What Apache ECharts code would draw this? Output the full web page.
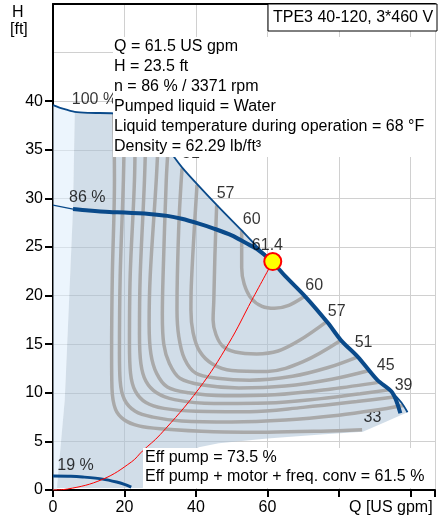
<!DOCTYPE html>
<html><head><meta charset="utf-8">
<script src="https://cdn.jsdelivr.net/npm/echarts@6/dist/echarts.min.js"></script>
<style>html,body{margin:0;padding:0;background:#fff}#c{width:438px;height:518px}</style>
</head><body><div id="c"></div>
<script>
const FONT = 'Liberation Sans, Arial, sans-serif';
const FS = 16;
const xTickLabels = [0, 20, 40, 60];
const yTickValues = [0, 5, 10, 15, 20, 25, 30, 35, 40];

// Pump curves (Q [US gpm], H [ft])
const curve100 = [[0,39.6],[3,39.2],[6.1,38.9],[10,38.8],[17,38.75],[21,38.5],[25,37.7],[29,36.4],[32,35.3],[34,34.2],[36.1,33.2],[40,31.6],[46.4,29.1],[52.8,26.7],[57,25.1],[61.3,23.5],[65,22.0],[70.6,19.9],[76.9,17.2],[80.6,15.4],[85.3,13.7],[90.8,11.3],[95,10.0],[97.5,9.0],[99.2,8.0]];
const curve86Thin = [[0,29.3],[5.6,28.9]];
const curve86 = [[5.6,28.9],[10,28.75],[15.8,28.6],[20,28.55],[26.9,28.4],[32,28.2],[36,27.9],[40.8,27.4],[45,26.9],[50,26.2],[54,25.4],[57,24.8],[61.3,23.5],[65,22.0],[70.6,19.9],[76.9,17.2],[80.6,15.4],[85.3,13.7],[90.8,11.3],[95,10.0],[97.2,7.9]];
const curve19 = [[0,1.45],[5,1.42],[8.3,1.34],[13.9,1.12],[17.8,0.82],[20,0.58],[21.9,0.3]];
const systemCurve = [[0,0],[4,0.1],[13.9,1.1],[22,2.9],[25,4.0],[30,5.7],[40.8,10.4],[49.2,15.1],[55.6,19.5],[61.5,23.5]];
const dutyPoint = [[61.5, 23.5]];

// Operating-range shading
const lightArea = [[0,39.6],[3,39.2],[6.1,38.9],[5.6,28.9],[3.3,9.3],[1.1,0.2],[1.1,0],[0,0]];
const darkArea = [[6.1,38.9],[10,38.8],[17,38.75],[21,38.5],[25,37.7],[29,36.4],[32,35.3],[34,34.2],[36.1,33.2],[40,31.6],[46.4,29.1],[52.8,26.7],[57,25.1],[61.3,23.5],[65,22.0],[70.6,19.9],[76.9,17.2],[80.6,15.4],[85.3,13.7],[90.8,11.3],[95,10.0],[97.5,9.0],[99.2,8.0],[93,7.0],[86.7,6.0],[75,5.7],[60,5.3],[46.4,4.8],[40.8,4.4],[25,0.2],[1.1,0.2],[3.3,9.3],[5.6,28.9]];

// Efficiency contours (%)
const eff33 = [[17.0,38.8],[17.2,31.9],[16.6,22],[16.4,14],[16.5,10.5],[17.5,8.3],[20,7.2],[24,6.6],[30,6.3],[45,6.0],[60,5.95],[75,6.05],[86.5,6.2]];
const eff36 = [[20,38.6],[19.7,31.9],[18.8,22],[18.6,14],[18.8,11.2],[20,9.3],[23,8.1],[28,7.5],[36,7.1],[50,7.0],[65,7.2],[80,7.7],[90,8.2],[98,8.7]];
const eff39 = [[23,38.1],[22.8,31.9],[21.6,22],[21.4,15],[21.7,12],[23,10.2],[26,9.0],[31,8.4],[40,8.1],[55,8.05],[70,8.5],[85,9.1],[96,9.6]];
const eff42 = [[26,37.3],[25.6,31.9],[24.4,22],[24.2,16],[24.6,13],[26,11.2],[29,10.0],[34,9.3],[45,8.9],[60,8.95],[75,9.4],[86,9.9],[94,10.3]];
const eff45 = [[29.5,36.5],[28.9,31.9],[27.2,22],[26.9,17],[27.4,14],[29,12],[32,10.6],[38,10.0],[48,9.7],[62,9.8],[78,10.4],[91.5,11.1]];
const eff48 = [[32.2,35.1],[31.7,31.9],[30.8,22],[30.6,18],[31,15],[32.6,13],[35.5,11.5],[42,10.8],[52,10.5],[65,10.7],[78,11.4],[88.5,12.3]];
const eff51 = [[36.1,33.1],[35.3,28],[34.8,22],[34.7,18.5],[35.2,15.8],[36.8,13.5],[40,12.0],[46,11.5],[55,11.3],[67,11.7],[77,12.6],[85.3,13.7]];
const eff54 = [[40.3,31.4],[39.4,26],[38.7,21],[38.6,18.5],[39.2,16.2],[41,14.3],[44.5,13.0],[50,12.3],[60,12.2],[70,13.2],[80.6,15.4]];
const eff57 = [[45.8,29.3],[45.3,24],[45,19.5],[44.8,17.5],[45.6,16],[47.5,14.8],[51,14.2],[57,14.0],[63,14.3],[69,15.4],[76.5,17.3]];
const eff60 = [[52.8,26.7],[52.8,22.9],[53.5,21.2],[55.5,19.7],[58.5,18.9],[62,18.7],[66,19.0],[70.3,19.9]];
const effContours = [eff33, eff36, eff39, eff42, eff45, eff48, eff51, eff54, eff57, eff60];

// Text labels placed in data space
const effLabels = [[38.6,34.6,'51'],[48.3,30.5,'57'],[55.6,27.8,'60'],[60,25.1,'61.4'],[73.1,21.0,'60'],[79.4,18.4,'57'],[86.9,15.2,'51'],[93.1,12.8,'45'],[98.1,10.7,'39']];
const effLabelsBelow = [[89.4,7.4,'33']];
const speedLabels = [[11.6,40.2,'100 %'],[9.6,30.1,'86 %'],[6.3,2.5,'19 %']];

const infoLines = ['Q = 61.5 US gpm','H = 23.5 ft','n = 86 % / 3371 rpm','Pumped liquid = Water','Liquid temperature during operation = 68 °F','Density = 62.29 lb/ft³'];
const effLines = ['Eff pump = 73.5 %','Eff pump + motor + freq. conv = 61.5 %'];
const titleText = 'TPE3 40-120, 3*460 V';

const BLUE = '#0a4a8a', GRAY = '#a9a9a9';

function poly(pts, fill, z){
  return {type:'custom', z, silent:true, clip:true, data:pts, encode:{x:0,y:1},
    renderItem:(params, api)=>{
      if (params.dataIndex !== 0) return null;
      return {type:'polygon', shape:{points: pts.map(p=>api.coord(p))}, style:{fill}};
    }};
}
function line(data, color, width, z, smooth){
  return {type:'line', data, symbol:'none', smooth: smooth === undefined ? 0.3 : smooth,
    lineStyle:{color, width, cap:'butt'}, z, silent:true, clip:true};
}
function labels(data, z){
  return {type:'scatter', data, symbolSize:0, z, silent:true,
    label:{show:true, position:'inside', formatter:p=>p.value[2], fontSize:FS, color:'#000', fontFamily:FONT}};
}

const series = [
  poly(lightArea, 'rgba(220,237,251,0.55)', 1),
  poly(darkArea, 'rgba(171,193,213,0.55)', 1),
  labels(effLabelsBelow, 2),
];
effContours.forEach(c => series.push(line(c, GRAY, 3.5, 3, 0.35)));
series.push(line(curve100, BLUE, 1.8, 4, 0.3));
series.push(line(curve86Thin, BLUE, 1.2, 4, 0));
series.push(line(curve86, BLUE, 4, 5, 0.3));
series.push(line(curve19, BLUE, 3, 5, 0.3));
series.push(line(systemCurve, '#ff0000', 1, 6, 0.4));
series.push({type:'scatter', data:dutyPoint, symbol:'circle', symbolSize:17, z:7, silent:true,
  itemStyle:{color:'#ffff00', borderColor:'#ff0000', borderWidth:2, opacity:1}});
series.push(labels(effLabels, 8));
series.push(labels(speedLabels, 8));

const chart = echarts.init(document.getElementById('c'), null, {renderer:'canvas'});
chart.setOption({
  animation:false,
  backgroundColor:'#fff',
  textStyle:{fontFamily:FONT},
  grid:{left:53, top:4, right:0, bottom:28, containLabel:false},
  xAxis:[
    {type:'value', min:0, max:106.9, interval:20, position:'bottom',
     axisLine:{show:true, onZero:false, lineStyle:{color:'#000', width:2}},
     axisTick:{show:true, inside:false, length:7, lineStyle:{color:'#000', width:2}},
     axisLabel:{show:true, margin:10, fontSize:FS, color:'#000', fontFamily:FONT,
       formatter:v => xTickLabels.indexOf(v) >= 0 ? String(v) : ''},
     splitLine:{show:true, lineStyle:{color:'#d0d0d0', width:1}}},
    {type:'value', min:0, max:106.9, position:'top',
     axisLine:{show:true, onZero:false, lineStyle:{color:'#000', width:2}},
     axisTick:{show:false}, axisLabel:{show:false}, splitLine:{show:false}}
  ],
  yAxis:[
    {type:'value', min:0, max:50, interval:5, position:'left',
     axisLine:{show:true, onZero:false, lineStyle:{color:'#000', width:2}},
     axisTick:{show:true, length:8, customValues:yTickValues, lineStyle:{color:'#000', width:2}},
     axisLabel:{show:true, margin:10, fontSize:FS, color:'#000', fontFamily:FONT, customValues:yTickValues},
     splitLine:{show:false}},
    {type:'value', min:0, max:50, interval:5, position:'right',
     axisLine:{show:false}, axisTick:{show:false}, axisLabel:{show:false},
     splitLine:{show:true, lineStyle:{color:'#d0d0d0', width:1}}}
  ],
  graphic:[
    {type:'text', left:12, top:5, z:100, style:{text:'H', fontSize:FS, fill:'#000', fontFamily:FONT}},
    {type:'text', left:10, top:22, z:100, style:{text:'[ft]', fontSize:FS, fill:'#000', fontFamily:FONT}},
    {type:'rect', z:100, shape:{x:268, y:4, width:169, height:27}, style:{fill:'#fff', stroke:'#000', lineWidth:1}},
    {type:'text', z:101, x:273, y:18, style:{text:titleText, fontSize:FS, fill:'#000', fontFamily:FONT, verticalAlign:'middle'}},
    {type:'rect', z:100, shape:{x:113, y:37, width:322, height:120}, style:{fill:'#fff'}},
    {type:'text', z:101, x:114, y:37, style:{text:infoLines.join('\n'), fontSize:FS, lineHeight:20, fill:'#000', fontFamily:FONT, verticalAlign:'top'}},
    {type:'rect', z:100, shape:{x:143, y:448, width:292, height:40}, style:{fill:'#fff'}},
    {type:'text', z:101, x:145, y:448, style:{text:effLines.join('\n'), fontSize:FS, lineHeight:19, fill:'#000', fontFamily:FONT, verticalAlign:'top'}},
    {type:'text', z:101, x:349, y:500, style:{text:'Q [US gpm]', fontSize:FS, fill:'#000', fontFamily:FONT, verticalAlign:'top'}}
  ],
  series
});
</script></body></html>
